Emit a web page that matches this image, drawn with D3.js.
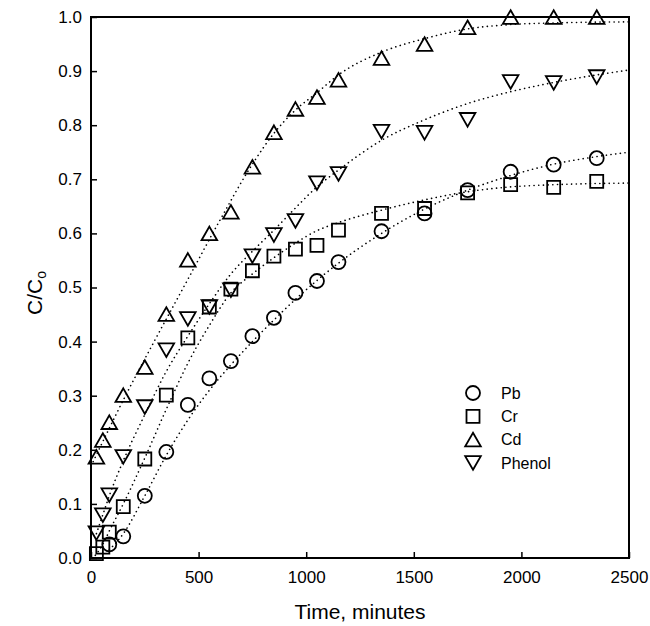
<!DOCTYPE html>
<html lang="en">
  <head>
    <meta charset="UTF-8" />
    <title>C/Co breakthrough</title>
    <style>
      body { margin: 0; background: #fff; }
      text { font-family: "Liberation Sans", Arial, sans-serif; fill: #000; }
    </style>
  </head>
  <body>
    <svg width="650" height="626" xmlns="http://www.w3.org/2000/svg"></svg>
  </body>
  <script src="https://cdn.jsdelivr.net/npm/d3@7"></script>
  <script>
    // sampling times (minutes)
    const times = [25, 55, 85, 150, 250, 350, 450, 550, 650, 750, 850, 950, 1050, 1150, 1350, 1550, 1750, 1950, 2150, 2350];

    // measured C/Co, null = not plotted
    const pb = [null, null, 0.025, 0.04, 0.115, 0.196, 0.283, 0.332, 0.364, 0.41, 0.444, 0.49, 0.512, 0.547, 0.604, 0.637, 0.68, 0.714, 0.727, 0.739];
    const cr = [0.008, 0.02, 0.048, 0.095, 0.183, 0.301, 0.407, 0.464, 0.497, 0.531, 0.558, 0.571, 0.578, 0.606, 0.637, 0.646, 0.675, 0.69, 0.685, 0.696];
    const cd = [0.187, 0.218, 0.251, 0.301, 0.353, 0.451, 0.551, 0.6, 0.64, 0.723, 0.787, 0.83, 0.852, 0.884, 0.924, 0.95, 0.981, 1.0, 1.0, 1.0];
    const phenol = [0.046, 0.079, 0.116, 0.187, 0.279, 0.384, 0.442, 0.464, 0.495, 0.558, 0.597, 0.623, 0.693, 0.71, 0.788, 0.786, 0.81, 0.88, 0.878, 0.889];

    // fitted curves, [time, C/Co]
    const pbFit = [[85, 0.015], [150, 0.045], [250, 0.115], [350, 0.19], [450, 0.255], [550, 0.31], [650, 0.357], [750, 0.4], [850, 0.44], [950, 0.478], [1050, 0.513], [1150, 0.545], [1350, 0.6], [1550, 0.645], [1750, 0.68], [1950, 0.707], [2150, 0.728], [2350, 0.742], [2500, 0.75]];
    const crFit = [[20, 0.005], [55, 0.025], [85, 0.05], [150, 0.1], [250, 0.185], [350, 0.275], [450, 0.36], [550, 0.43], [650, 0.49], [750, 0.525], [850, 0.555], [950, 0.582], [1050, 0.605], [1150, 0.62], [1350, 0.643], [1550, 0.662], [1750, 0.677], [1950, 0.686], [2150, 0.69], [2500, 0.693]];
    const cdFit = [[10, 0.178], [150, 0.292], [300, 0.405], [450, 0.515], [600, 0.625], [750, 0.728], [850, 0.785], [950, 0.828], [1050, 0.86], [1150, 0.893], [1350, 0.935], [1550, 0.96], [1750, 0.978], [1950, 0.986], [2150, 0.989], [2500, 0.991]];
    const phenolFit = [[25, 0.045], [55, 0.08], [85, 0.115], [150, 0.18], [250, 0.265], [350, 0.345], [450, 0.41], [550, 0.47], [650, 0.525], [750, 0.567], [850, 0.606], [950, 0.647], [1050, 0.686], [1150, 0.717], [1350, 0.772], [1550, 0.81], [1750, 0.84], [1950, 0.862], [2150, 0.879], [2350, 0.893], [2500, 0.902]];

    const xTicks = [0, 500, 1000, 1500, 2000, 2500];
    const yTicks = [0, 0.1, 0.2, 0.3, 0.4, 0.5, 0.6, 0.7, 0.8, 0.9, 1.0];

    const series = [
      { name: "Pb", values: pb, fit: pbFit, shape: "circle" },
      { name: "Cr", values: cr, fit: crFit, shape: "square" },
      { name: "Cd", values: cd, fit: cdFit, shape: "up" },
      { name: "Phenol", values: phenol, fit: phenolFit, shape: "down" }
    ];

    const plotLeft = 91, plotRight = 629, plotTop = 17, plotBottom = 558;
    const x = d3.scaleLinear().domain([0, 2500]).range([plotLeft, plotRight]);
    const y = d3.scaleLinear().domain([0, 1]).range([plotBottom, plotTop]);

    const svg = d3.select("svg");

    function shapePath(shape) {
      if (shape === "circle") return d3.arc()({ innerRadius: 0, outerRadius: 7, startAngle: 0, endAngle: 2 * Math.PI });
      if (shape === "square") return "M-6.5,-6.5H6.5V6.5H-6.5Z";
      if (shape === "up") return "M0,-6.8L7.8,6.8H-7.8Z";
      return "M0,6.8L7.8,-6.8H-7.8Z";
    }

    function drawCurves() {
      const line = d3.line()
        .x(d => x(d[0]))
        .y(d => y(d[1]))
        .curve(d3.curveMonotoneX);
      svg.append("g")
        .selectAll("path")
        .data(series)
        .enter()
        .append("path")
        .attr("d", d => line(d.fit))
        .style("fill", "none")
        .style("stroke", "#000")
        .style("stroke-width", 1.6)
        .style("stroke-linecap", "round")
        .style("stroke-dasharray", "0.1 4.6");
    }

    function drawPoints() {
      series.forEach(s => {
        const pts = times
          .map((t, i) => ({ t: t, c: s.values[i] }))
          .filter(d => d.c !== null);
        svg.append("g")
          .selectAll("path")
          .data(pts)
          .enter()
          .append("path")
          .attr("d", shapePath(s.shape))
          .attr("transform", d => `translate(${x(d.t)},${y(d.c)})`)
          .style("fill", "none")
          .style("stroke", "#000")
          .style("stroke-width", 1.8);
      });
    }

    function drawAxes() {
      const xAxis = d3.axisBottom(x).tickValues(xTicks).tickFormat(d3.format("d")).tickSizeInner(-6).tickSizeOuter(0).tickPadding(13);
      const gx = svg.append("g").attr("transform", `translate(0,${plotBottom})`).call(xAxis);
      const yAxis = d3.axisLeft(y).tickValues(yTicks).tickFormat(d3.format(".1f")).tickSizeInner(-6).tickSizeOuter(0).tickPadding(9);
      const gy = svg.append("g").attr("transform", `translate(${plotLeft},0)`).call(yAxis);
      [gx, gy].forEach(g => {
        g.select(".domain").remove();
        g.selectAll(".tick line").style("stroke", "#000").style("stroke-width", 1.5);
        g.selectAll(".tick text").style("font-size", "17px").style("font-family", "Liberation Sans, Arial, sans-serif");
      });

      svg.append("rect")
        .attr("x", plotLeft)
        .attr("y", plotTop)
        .attr("width", plotRight - plotLeft)
        .attr("height", plotBottom - plotTop)
        .style("fill", "none")
        .style("stroke", "#000")
        .style("stroke-width", 2);

      svg.append("text")
        .attr("x", (plotLeft + plotRight) / 2)
        .attr("y", 619)
        .attr("text-anchor", "middle")
        .style("font-size", "21px")
        .text("Time, minutes");

      const yl = svg.append("text")
        .attr("transform", "translate(42,293) rotate(-90)")
        .attr("text-anchor", "middle")
        .style("font-size", "21px");
      yl.append("tspan").text("C/C");
      yl.append("tspan").attr("baseline-shift", "-25%").style("font-size", "14px").text("o");
    }

    function drawLegend() {
      const lg = svg.append("g").attr("transform", "translate(473,393)");
      const rows = lg.selectAll("g")
        .data(series)
        .enter()
        .append("g")
        .attr("transform", (d, i) => `translate(0,${i * 23.3})`);
      rows.append("path")
        .attr("d", d => shapePath(d.shape))
        .style("fill", "none")
        .style("stroke", "#000")
        .style("stroke-width", 1.8);
      rows.append("text")
        .attr("x", 28)
        .attr("dy", "0.36em")
        .style("font-size", "16px")
        .text(d => d.name);
    }

    drawCurves();
    drawPoints();
    drawAxes();
    drawLegend();
  </script>
</html>
